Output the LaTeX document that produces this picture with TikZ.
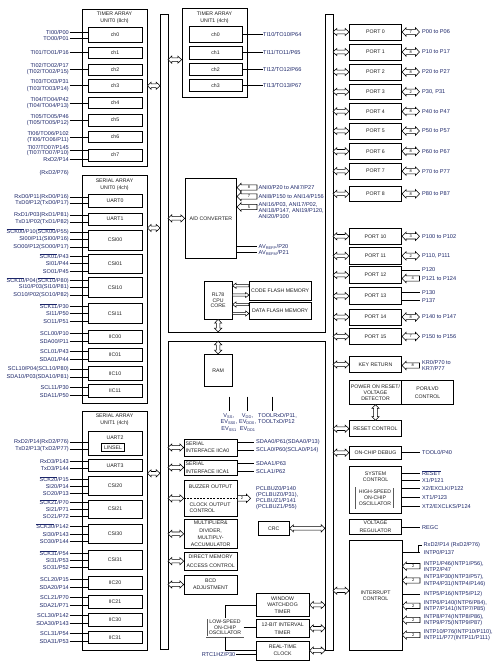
\documentclass[tikz,border=0pt]{standalone}
\usepackage{fontspec}
\setmainfont{Liberation Sans}
\usetikzlibrary{calc}
\definecolor{pincol}{RGB}{28,38,105}
\definecolor{bxtext}{RGB}{30,30,30}
\newcommand\pinf[1]{\fontsize{5.6}{#1}\selectfont}
\newcommand\bxf[1]{\fontsize{5.2}{#1}\selectfont}
\newcommand\ovl[1]{\leavevmode\vbox{\hrule height 0.35pt\kern0.45pt\hbox{#1}}}
\newcommand\sbs[1]{\textsubscript{#1}}
\def\Ah{3.8pt}\def\Aw{3.6pt}\def\As{1.8pt}
\def\Nh{4pt}\def\Nw{4.2pt}\def\Ns{2.7pt}
\def\Fh{3.4pt}\def\Fw{2.6pt}\def\Fs{1.1pt}
\tikzset{
 bx/.style={draw, line width=0.7pt, fill=white, inner sep=0pt, align=center, font=\bxf{6.4}, text=bxtext},
 grp/.style={line width=0.8pt},
 dbl/.style={draw=black!65, line width=0.45pt, double=white, double distance=0.7pt},
 pinl/.style={font=\pinf{6.4}, text=pincol, inner sep=0.5pt, align=right, anchor=east},
 pinr/.style={font=\pinf{6.4}, text=pincol, inner sep=0.5pt, align=left, anchor=west},
 pw/.style={line width=0.5pt},
 blk/.style={draw, line width=0.55pt, fill=white, line join=miter},
 numl/.style={font=\fontsize{4}{4}\selectfont, inner sep=0pt},
 ttl/.style={font=\bxf{6.8}, align=center, inner sep=0pt, text=bxtext},
 busst/.style={draw, line width=0.8pt, fill=white},
}
% box from (x1,y1) to (x2,y2)
\newcommand\bx[7][]{\node[bx,minimum width={(#5-#3)*1pt},minimum height={(#6-#4)*1pt},#1] (#2) at ({(#3+#5)/2},{(#4+#6)/2}) {#7};}
% left pin label and line to box
\newcommand\pl[5][]{\node[pinl,#1] (#2) at (69.5,#4) {#5}; \draw[pw] (#2.east) -- (#2.east -| #3.west);}
% right pin line and label
\newcommand\prl[6][]{\coordinate (#2y) at (0,#4); \draw[pw] (#3.east |- #2y) -- (#5R |- #2y); \node[pinr,#1] (#2) at (#5L |- #2y) {#6};}
% hollow double arrow (horizontal)
\newcommand\dblarr[2]{\draw[blk] let \p1=(#1),\p2=(#2) in (\x1,\y1) -- (\x1+\Ah,\y1+\Aw) -- (\x1+\Ah,\y1+\As) -- (\x2-\Ah,\y1+\As) -- (\x2-\Ah,\y1+\Aw) -- (\x2,\y1) -- (\x2-\Ah,\y1-\Aw) -- (\x2-\Ah,\y1-\As) -- (\x1+\Ah,\y1-\As) -- (\x1+\Ah,\y1-\Aw) -- cycle;}
% numbered double arrow
\newcommand\ndblarr[3]{\draw[blk] let \p1=(#1),\p2=(#2) in (\x1,\y1) -- (\x1+\Nh,\y1+\Nw) -- (\x1+\Nh,\y1+\Ns) -- (\x2-\Nh,\y1+\Ns) -- (\x2-\Nh,\y1+\Nw) -- (\x2,\y1) -- (\x2-\Nh,\y1-\Nw) -- (\x2-\Nh,\y1-\Ns) -- (\x1+\Nh,\y1-\Ns) -- (\x1+\Nh,\y1-\Nw) -- cycle ({(\x1+\x2)/2},\y1) node[numl]{#3};}
% numbered arrow, tip at left (#1)
\newcommand\nlarr[3]{\draw[blk] let \p1=(#1),\p2=(#2) in (\x1,\y1) -- (\x1+\Nh,\y1+\Nw) -- (\x1+\Nh,\y1+\Ns) -- (\x2,\y1+\Ns) -- (\x2,\y1-\Ns) -- (\x1+\Nh,\y1-\Ns) -- (\x1+\Nh,\y1-\Nw) -- cycle ({(\x1+\Nh+\x2)/2},\y1) node[numl]{#3};}
% numbered arrow, tip at right (#2)
\newcommand\nrarr[3]{\draw[blk] let \p1=(#1),\p2=(#2) in (\x1,\y1+\Ns) -- (\x2-\Nh,\y1+\Ns) -- (\x2-\Nh,\y1+\Nw) -- (\x2,\y1) -- (\x2-\Nh,\y1-\Nw) -- (\x2-\Nh,\y1-\Ns) -- (\x1,\y1-\Ns) -- cycle ({(\x1+\x2-\Nh)/2},\y1) node[numl]{#3};}
% small arrows, tip left / tip right
\newcommand\flarr[2]{\draw[blk] let \p1=(#1),\p2=(#2) in (\x1,\y1) -- (\x1+\Fh,\y1+\Fw) -- (\x1+\Fh,\y1+\Fs) -- (\x2,\y1+\Fs) -- (\x2,\y1-\Fs) -- (\x1+\Fh,\y1-\Fs) -- (\x1+\Fh,\y1-\Fw) -- cycle;}
\newcommand\frarr[2]{\draw[blk] let \p1=(#1),\p2=(#2) in (\x1,\y1+\Fs) -- (\x2-\Fh,\y1+\Fs) -- (\x2-\Fh,\y1+\Fw) -- (\x2,\y1) -- (\x2-\Fh,\y1-\Fw) -- (\x2-\Fh,\y1-\Fs) -- (\x1,\y1-\Fs) -- cycle;}
% vertical double arrow, #1 top, #2 bottom
\newcommand\vdblarr[2]{\draw[blk] let \p1=(#1),\p2=(#2) in (\x1,\y1) -- (\x1+\Aw,\y1-\Ah) -- (\x1+\As,\y1-\Ah) -- (\x1+\As,\y2+\Ah) -- (\x1+\Aw,\y2+\Ah) -- (\x1,\y2) -- (\x1-\Aw,\y2+\Ah) -- (\x1-\As,\y2+\Ah) -- (\x1-\As,\y1-\Ah) -- (\x1-\Aw,\y1-\Ah) -- cycle;}
\newcommand\port[6]{\bx{#1}{349.3}{#2}{401.7}{#3}{#4}\dblarr{RBR |- #1}{#1.west}\ndblarr{#1.east}{pR |- #1}{#5}\node[pinr] (#1l) at (pL |- #1) {#6};}
\newcommand\intn[3]{\coordinate (#1y) at (0,#2); \nlarr{intc.east |- #1y}{iR |- #1y}{2}\node[pinr] (#1) at (iL |- #1y) {#3};}
\begin{document}
\begin{tikzpicture}[x=1pt,y=-1pt]
\fill[white] (0,0) rectangle (499,661);
\useasboundingbox (0,0) rectangle (499,661);
% internal bus (H shape)
\draw[busst] (160,14) -- (168,14) -- (168,332) -- (325,332) -- (325,14) -- (333,14) -- (333,650.5) -- (325,650.5) -- (325,341) -- (168,341) -- (168,649) -- (160,649) -- cycle;
\coordinate (LBL) at (160,0);
\coordinate (LBR) at (168,0);
\coordinate (RBL) at (325,0);
\coordinate (RBR) at (333,0);
\coordinate (pipeT) at (0,332);
\coordinate (pipeB) at (0,341);
\coordinate (tpx) at (262.5,0);
\coordinate (adR) at (257,0);
\coordinate (adL) at (258,0);
\coordinate (mR) at (254,0);
\coordinate (mL) at (255.5,0);
\coordinate (pR) at (419.5,0);
\coordinate (pL) at (421.5,0);
\coordinate (iR) at (420,0);
\coordinate (iL) at (423,0);

% ---------- TIMER ARRAY UNIT0 ----------
\bx[grp]{tau0}{82}{9}{147}{166}{}
\node[ttl] (tau0t) at (114.5,17.5) {TIMER ARRAY\\UNIT0 (8ch)};
\bx{c0}{88}{27}{142}{42}{ch0}
\bx{c1}{88}{47}{142}{58.5}{ch1}
\bx{c2}{88}{64}{142}{75.5}{ch2}
\bx{c3}{88}{79.5}{142}{92}{ch3}
\bx{c4}{88}{97}{142}{108.5}{ch4}
\bx{c5}{88}{114}{142}{126}{ch5}
\bx{c6}{88}{131}{142}{142}{ch6}
\bx{c7}{88}{149}{142}{161}{ch7}
\pl{a01}{c0}{32}{TI00/P00}
\pl{a02}{c0}{38}{TO00/P01}
\pl{a03}{c1}{52.5}{TI01/TO01/P16}
\pl{a04}{c2}{69}{TI02/TO02/P17\\(TI02/TO02/P15)}
\pl{a05}{c3}{85.5}{TI03/TO03/P31\\(TI03/TO03/P14)}
\pl{a06}{c4}{103}{TI04/TO04/P42\\(TI04/TO04/P13)}
\pl{a07}{c5}{120}{TI05/TO05/P46\\(TI05/TO05/P12)}
\pl{a08}{c6}{137}{TI06/TO06/P102\\(TI06/TO06/P11)}
\pl[font=\pinf{5.4}]{a09}{c7}{150.7}{TI07/TO07/P145\\(TI07/TO07/P10)}
\pl{a10}{c7}{159.5}{RxD2/P14}
\node[pinl] (a11) at (69.5,173) {(RxD2/P76)};
\dblarr{tau0.east |- c3}{LBL |- c3}

% ---------- SERIAL ARRAY UNIT0 ----------
\bx[grp]{sau0}{82}{175}{147}{403.5}{}
\node[ttl] (sau0t) at (114.5,185) {SERIAL ARRAY\\UNIT0 (4ch)};
\bx{u0}{88}{194.5}{142}{207}{UART0}
\bx{u1}{88}{213}{142}{225}{UART1}
\bx{s00}{88}{230}{142}{250}{CSI00}
\bx{s01}{88}{254.5}{142}{273.5}{CSI01}
\bx{s10}{88}{277.5}{142}{297.5}{CSI10}
\bx{s11}{88}{303}{142}{323.5}{CSI11}
\bx{i00}{88}{330}{142}{343.5}{IIC00}
\bx{i01}{88}{348.5}{142}{361.5}{IIC01}
\bx{i10}{88}{366.5}{142}{380}{IIC10}
\bx{i11}{88}{384.5}{142}{397.5}{IIC11}
\pl{b01}{u0}{197.5}{RxD0/P11(RxD0/P16)}
\pl{b02}{u0}{203.5}{TxD0/P12(TxD0/P17)}
\pl{b03}{u1}{215}{RxD1/P03(RxD1/P81)}
\pl{b04}{u1}{222}{TxD1/P02(TxD1/P82)}
\pl{b05}{s00}{232}{\ovl{SCK00}/P10(\ovl{SCK00}/P55)}
\pl{b06}{s00}{239.5}{SI00/P11(SI00/P16)}
\pl{b07}{s00}{247}{SO00/P12(SO00/P17)}
\pl{b08}{s01}{256}{\ovl{SCK01}/P43}
\pl{b09}{s01}{263}{SI01/P44}
\pl{b10}{s01}{271}{SO01/P45}
\pl{b11}{s10}{280.5}{\ovl{SCK10}/P04(\ovl{SCK10}/P80)}
\pl{b12}{s10}{287.5}{SI10/P03(SI10/P81)}
\pl{b13}{s10}{295}{SO10/P02(SO10/P82)}
\pl{b14}{s11}{306}{\ovl{SCK11}/P30}
\pl{b15}{s11}{313.5}{SI11/P50}
\pl{b16}{s11}{321}{SO11/P51}
\pl{b17}{i00}{333}{SCL00/P10}
\pl{b18}{i00}{341}{SDA00/P11}
\pl{b19}{i01}{351}{SCL01/P43}
\pl{b20}{i01}{359}{SDA01/P44}
\pl{b21}{i10}{369.5}{SCL10/P04(SCL10/P80)}
\pl{b22}{i10}{377.5}{SDA10/P03(SDA10/P81)}
\pl{b23}{i11}{387}{SCL11/P30}
\pl{b24}{i11}{395}{SDA11/P50}
\coordinate (sau0y) at (0,228);
\dblarr{sau0.east |- sau0y}{LBL |- sau0y}

% ---------- SERIAL ARRAY UNIT1 ----------
\bx[grp]{sau1}{82}{411}{147}{650}{}
\node[ttl] (sau1t) at (114.5,419.7) {SERIAL ARRAY\\UNIT1 (4ch)};
\bx{u2}{88}{431.5}{142}{455}{}
\node[ttl] (u2t) at (115,437.5) {UART2};
\bx[line width=0.6pt]{lin}{101.7}{443.3}{124.3}{451.7}{LINSEL}
\bx{u3}{88}{459.5}{142}{471}{UART3}
\bx{s20}{88}{476.5}{142}{495}{CSI20}
\bx{s21}{88}{500}{142}{518}{CSI21}
\bx{s30}{88}{524.5}{142}{543}{CSI30}
\bx{s31}{88}{550}{142}{569.5}{CSI31}
\bx{i20}{88}{576.5}{142}{589.5}{IIC20}
\bx{i21}{88}{595}{142}{608.5}{IIC21}
\bx{i30}{88}{613}{142}{626}{IIC30}
\bx{i31}{88}{631}{142}{643.5}{IIC31}
\pl{d01}{u2}{442}{RxD2/P14(RxD2/P76)}
\pl{d02}{u2}{449}{TxD2/P13(TxD2/P77)}
\pl{d03}{u3}{461.5}{RxD3/P143}
\pl{d04}{u3}{468.5}{TxD3/P144}
\pl{d05}{s20}{479}{\ovl{SCK20}/P15}
\pl{d06}{s20}{486}{SI20/P14}
\pl{d07}{s20}{493}{SO20/P13}
\pl{d08}{s21}{502}{\ovl{SCK21}/P70}
\pl{d09}{s21}{509.5}{SI21/P71}
\pl{d10}{s21}{516.5}{SO21/P72}
\pl{d11}{s30}{526.5}{\ovl{SCK30}/P142}
\pl{d12}{s30}{534}{SI30/P143}
\pl{d13}{s30}{541.5}{SO30/P144}
\pl{d14}{s31}{553}{\ovl{SCK31}/P54}
\pl{d15}{s31}{560}{SI31/P53}
\pl{d16}{s31}{567.5}{SO31/P52}
\pl{d17}{i20}{579}{SCL20/P15}
\pl{d18}{i20}{587.5}{SDA20/P14}
\pl{d19}{i21}{597.5}{SCL21/P70}
\pl{d20}{i21}{605.5}{SDA21/P71}
\pl{d21}{i30}{615}{SCL30/P142}
\pl{d22}{i30}{623.5}{SDA30/P143}
\pl{d23}{i31}{633}{SCL31/P54}
\pl{d24}{i31}{641}{SDA31/P53}
\coordinate (sau1y) at (0,473.3);
\dblarr{sau1.east |- sau1y}{LBL |- sau1y}

% ---------- TIMER ARRAY UNIT1 ----------
\bx[grp]{tau1}{182}{8.5}{247}{97}{}
\node[ttl] (tau1t) at (214.5,17.4) {TIMER ARRAY\\UNIT1 (4ch)};
\bx{t0}{189}{26}{242}{42.3}{ch0}
\bx{t1}{189}{46}{242}{59.3}{ch1}
\bx{t2}{189}{63.3}{242}{75.3}{ch2}
\bx{t3}{189}{79.3}{242}{91.7}{ch3}
\node[pinr] (e0) at (t0.east -| tpx) {TI10/TO10/P64}; \draw[pw] (t0.east) -- (e0.west);
\node[pinr] (e1) at (t1.east -| tpx) {TI11/TO11/P65}; \draw[pw] (t1.east) -- (e1.west);
\node[pinr] (e2) at (t2.east -| tpx) {TI12/TO12/P66}; \draw[pw] (t2.east) -- (e2.west);
\node[pinr] (e3) at (t3.east -| tpx) {TI13/TO13/P67}; \draw[pw] (t3.east) -- (e3.west);
\dblarr{LBR |- t1.south}{tau1.west |- t1.south}

% ---------- A/D converter ----------
\bx{ad}{185}{178.5}{236.7}{258.3}{A/D CONVERTER}
\dblarr{LBR |- ad}{ad.west}
\coordinate (ya1) at (0,187.5);
\coordinate (ya2) at (0,196.5);
\coordinate (ya3) at (0,207);
\coordinate (ya3t) at (0,210.4);
\nlarr{ad.east |- ya1}{adR |- ya1}{8}
\nlarr{ad.east |- ya2}{adR |- ya2}{7}
\nlarr{ad.east |- ya3}{adR |- ya3}{5}
\node[pinr] (an1) at (adL |- ya1) {ANI0/P20 to ANI7/P27};
\node[pinr] (an2) at (adL |- ya2) {ANI8/P150 to ANI14/P156};
\node[pinr, font=\pinf{6.3}] (an3) at (adL |- ya3t) {ANI16/P03, ANI17/P02,\\ANI18/P147, ANI19/P120,\\ANI20/P100};
\prl{avp}{ad}{246.5}{ad}{AV\sbs{REFP}/P20}
\prl{avm}{ad}{252.5}{ad}{AV\sbs{REFM}/P21}

% ---------- CPU and flash ----------
\bx[font=\bxf{5.7}]{cpu}{204}{281.7}{232.3}{319}{RL78\\CPU\\CORE}
\bx{cfl}{249.3}{281.7}{311}{300}{CODE FLASH MEMORY}
\bx{dfl}{249.3}{302.3}{311}{319}{DATA FLASH MEMORY}
\coordinate (yf1) at (0,285.7);
\coordinate (yf2) at (0,295);
\coordinate (yf3) at (0,304.5);
\coordinate (yf4) at (0,313.5);
\flarr{cpu.east |- yf1}{cfl.west |- yf1}
\frarr{cpu.east |- yf2}{cfl.west |- yf2}
\flarr{cpu.east |- yf3}{dfl.west |- yf3}
\frarr{cpu.east |- yf4}{dfl.west |- yf4}
\vdblarr{cpu.south}{cpu.south |- pipeT}

% ---------- RAM and power ----------
\bx{ram}{204}{354.3}{232.3}{386.7}{RAM}
\vdblarr{ram.north |- pipeB}{ram.north}
\node[pinr, anchor=north, align=center, font=\pinf{6.5}] (vss) at (229,412.5) {V\sbs{SS},\\EV\sbs{SS0},\\EV\sbs{SS1}};
\node[pinr, anchor=north, align=center, font=\pinf{6.5}] (vdd) at (247.7,412.5) {V\sbs{DD},\\EV\sbs{DD0},\\EV\sbs{DD1}};
\node[pinr, anchor=north west, font=\pinf{6.3}] (tool) at (257.5,412.5) {TOOLRxD/P11,\\TOOLTxD/P12};
\coordinate (v1) at (229,396.7);
\coordinate (v2) at (247.7,396.7);
\coordinate (v3) at (272,396.7);
\draw[line width=0.7pt, shorten >=2pt] (v1) -- (v1 |- vss.north);
\draw[line width=0.7pt, shorten >=2pt] (v2) -- (v2 |- vdd.north);
\draw[line width=0.7pt, shorten >=2pt] (v3) -- (v3 |- tool.north);

% ---------- serial interfaces IICA ----------
\bx{iica0}{184}{439}{237.3}{456}{}
\node[ttl, anchor=west, align=left, font=\bxf{6.5}] (iica0t) at (185.5,447) {SERIAL\\INTERFACE IICA0};
\prl{sda0}{iica0}{442.5}{m}{SDAA0/P61(SDAA0/P13)}
\prl{scl0}{iica0}{450}{m}{SCLA0/P60(SCLA0/P14)}
\dblarr{LBR |- iica0}{iica0.west}
\bx{iica1}{184}{460}{237.3}{475}{}
\node[ttl, anchor=west, align=left, font=\bxf{7.4}] (iica1t) at (185.5,467.8) {SERIAL\\INTERFACE IICA1};
\prl{sda1}{iica1}{463.5}{m}{SDAA1/P63}
\prl{scl1}{iica1}{471.5}{m}{SCLA1/P62}
\dblarr{LBR |- iica1}{iica1.west}

% ---------- buzzer / clock output ----------
\bx{buz}{184}{480}{237.3}{516.7}{}
\draw[line width=0.8pt, dash pattern=on 2pt off 1.3pt] (buz.west) -- (buz.east);
\node[ttl] (bzt) at (210.6,487) {BUZZER OUTPUT};
\node[ttl, anchor=west, align=left, font=\bxf{6.2}] (ckt) at (189.5,508) {CLOCK OUTPUT\\CONTROL};
\coordinate (bzx) at (250.5,0);
\nrarr{buz.east}{bzx |- buz}{2}
\node[pinr, font=\pinf{6.1}] (pcl) at (mL |- buz) {PCLBUZ0/P140\\(PCLBUZ0/P31),\\PCLBUZ1/P141\\(PCLBUZ1/P55)};
\dblarr{LBR |- buz}{buz.west}

% ---------- other middle blocks ----------
\bx[font=\bxf{7.1}]{mul}{184}{519.3}{237.3}{548.3}{MULTIPLIER\&\\DIVIDER,\\MULTIPLY-\\ACCUMULATOR}
\dblarr{LBR |- mul}{mul.west}
\bx[font=\bxf{8.2}]{dma}{184}{552.3}{237.3}{570}{DIRECT MEMORY\\ACCESS CONTROL}
\dblarr{LBR |- dma}{dma.west}
\bx[font=\bxf{6.8}]{bcd}{184}{575}{237.3}{594}{BCD\\ADJUSTMENT}
\dblarr{LBR |- bcd}{bcd.west}
\bx{crc}{258.3}{521.7}{289.3}{535}{CRC}
\dblarr{crc.east}{RBL |- crc}
\bx[font=\bxf{6.5}]{wdt}{256}{593.3}{309.3}{616.7}{WINDOW\\WATCHDOG\\TIMER}
\dblarr{wdt.east}{RBL |- wdt}
\bx[font=\bxf{8.2}]{itm}{256}{619.3}{309.3}{637.3}{12-BIT INTERVAL\\TIMER}
\dblarr{itm.east}{RBL |- itm}
\bx[font=\bxf{7.3}]{rtc}{256}{641}{309.3}{660}{REAL-TIME\\CLOCK}
\dblarr{rtc.east}{RBL |- rtc}
\bx[dbl, font=\bxf{5.4}]{lso}{206.7}{618.3}{243.3}{636.7}{LOW-SPEED\\ON-CHIP\\OSCILLATOR}
\draw[pw] (lso.north) |- (wdt.west);
\draw[pw] (lso.east) -- (lso.east -| itm.west);
\draw[pw] (lso.south) |- (rtc.west);
\node[pinl] (rtch) at (236,654) {RTC1HZ/P30};
\draw[pw] (rtch.east) -- (rtch.east -| rtc.west);

% ---------- ports ----------
\port{p0}{24}{40}{PORT 0}{7}{P00 to P06}
\port{p1}{44}{60}{PORT 1}{8}{P10 to P17}
\port{p2}{64}{80}{PORT 2}{8}{P20 to P27}
\port{p3}{84}{99.5}{PORT 3}{2}{P30, P31}
\port{p4}{103.5}{119.3}{PORT 4}{8}{P40 to P47}
\port{p5}{123}{139}{PORT 5}{8}{P50 to P57}
\port{p6}{143.3}{159.3}{PORT 6}{8}{P60 to P67}
\port{p7}{163.3}{179}{PORT 7}{8}{P70 to P77}
\port{p8}{186}{201.7}{PORT 8}{8}{P80 to P87}
\port{p10}{228.3}{244.3}{PORT 10}{3}{P100 to P102}
\port{p11}{247.7}{264}{PORT 11}{2}{P110, P111}
\bx{p12}{349.3}{266.7}{401.7}{283.3}{PORT 12}
\dblarr{RBR |- p12}{p12.west}
\prl{p120}{p12}{270}{p}{P120}
\coordinate (p12b) at (0,278.5);
\nlarr{p12.east |- p12b}{pR |- p12b}{4}
\node[pinr] (p121) at (pL |- p12b) {P121 to P124};
\bx{p13}{349.3}{287.7}{401.7}{304.3}{PORT 13}
\dblarr{RBR |- p13}{p13.west}
\prl{p130}{p13}{292.5}{p}{P130}
\prl{p137}{p13}{300.5}{p}{P137}
\port{p14}{309}{325}{PORT 14}{8}{P140 to P147}
\port{p15}{328.7}{344.3}{PORT 15}{7}{P150 to P156}

% ---------- key return, reset, debug ----------
\bx{key}{349.3}{356.7}{401.7}{372.3}{KEY RETURN}
\dblarr{RBR |- key}{key.west}
\coordinate (kry) at (0,365.5);
\nlarr{key.east |- kry}{pR |- kry}{8}
\node[pinr, font=\pinf{6.7}] (krl) at (pL |- kry) {KR0/P70 to\\KR7/P77};
\bx[font=\bxf{6.3}]{por}{349.3}{380.7}{401.7}{404.3}{POWER ON RESET/\\VOLTAGE\\DETECTOR}
\bx[font=\bxf{7.3}]{lvd}{401.7}{380.7}{453.3}{404.3}{POR/LVD\\CONTROL}
\bx{rst}{349.3}{420.7}{401.7}{436.7}{RESET CONTROL}
\vdblarr{por.south}{rst.north}
\dblarr{RBR |- rst}{rst.west}
\bx{ocd}{349.3}{446}{401.7}{459.3}{ON-CHIP DEBUG}
\dblarr{RBR |- ocd}{ocd.west}
\prl{tool0}{ocd}{452.7}{p}{TOOL0/P40}

% ---------- system control ----------
\bx{sys}{349.3}{466}{401.7}{513.3}{}
\node[ttl] (syst) at (375.5,476.7) {SYSTEM\\CONTROL};
\bx[dbl, font=\bxf{5.8}]{hoco}{356}{487.3}{394}{508.3}{HIGH-SPEED\\ON-CHIP\\OSCILLATOR}
\prl{rs}{sys}{473.3}{p}{\ovl{RESET}}
\prl{x1}{sys}{480.7}{p}{X1/P121}
\prl{x2}{sys}{488}{p}{X2/EXCLK/P122}
\prl{xt1}{sys}{497.3}{p}{XT1/P123}
\prl{xt2}{sys}{506.7}{p}{XT2/EXCLKS/P124}
\bx[font=\bxf{7.3}]{vreg}{349.3}{519}{401.7}{534.3}{VOLTAGE\\REGULATOR}
\prl{regc}{vreg}{527.3}{p}{REGC}

% ---------- interrupt control ----------
\bx[font=\bxf{6.2}]{intc}{349.3}{540}{402}{650.7}{INTERRUPT\\CONTROL}
\coordinate (icy) at (0,590.7);
\dblarr{RBR |- icy}{intc.west |- icy}
\coordinate (yi0) at (0,545.3);
\coordinate (yi1) at (0,552.7);
\coordinate (ibr) at (418,0);
\coordinate (ibr2) at (421.5,0);
\draw[pw] (intc.east |- yi1) -- (iR |- yi1);
\draw[pw] (ibr2 |- yi0) -- (ibr |- yi0) -- (ibr |- yi1);
\node[pinr] (irx) at (iL |- yi0) {RxD2/P14 (RxD2/P76)};
\node[pinr] (ip0) at (iL |- yi1) {INTP0/P137};
\intn{ip1}{566.2}{INTP1/P46(INTP1/P56),\\INTP2/P47}
\intn{ip3}{580.5}{INTP3/P30(INTP3/P57),\\INTP4/P31(INTP4/P146)}
\prl{ip5}{intc}{594}{i}{INTP5/P16(INTP5/P12)}
\intn{ip6}{605.8}{INTP6/P140(INTP6/P84),\\INTP7/P141(INTP7/P85)}
\intn{ip8}{620}{INTP8/P74(INTP8/P86),\\INTP9/P75(INTP9/P87)}
\intn{ip10}{635}{INTP10/P76(INTP10/P110),\\INTP11/P77(INTP11/P111)}
\end{tikzpicture}
\end{document}
